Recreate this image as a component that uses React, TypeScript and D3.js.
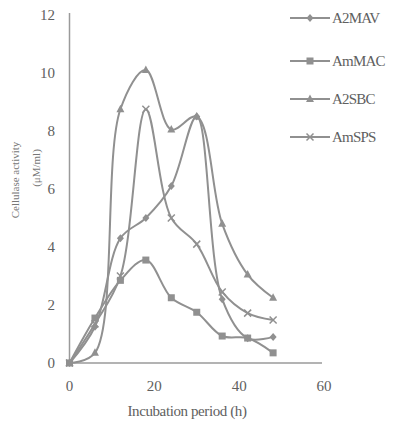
import { useEffect, useRef } from "react";
import * as d3 from "d3";

const hours = [0, 6, 12, 18, 24, 30, 36, 42, 48];
const a2mav = [0, 1.25, 4.3, 5.0, 6.1, 8.5, 2.2, 0.85, 0.9];
const ammac = [0, 1.55, 2.85, 3.55, 2.25, 1.75, 0.93, 0.86, 0.35];
const a2sbc = [0, 0.35, 8.75, 10.1, 8.05, 8.5, 4.8, 3.05, 2.25];
const amsps = [0, 1.35, 3.0, 8.75, 5.0, 4.1, 2.45, 1.72, 1.48];

const seriesNames = ["A2MAV", "AmMAC", "A2SBC", "AmSPS"];
const seriesValues = [a2mav, ammac, a2sbc, amsps];
const markerTypes = ["diamond", "square", "triangle", "cross"] as const;

const xTicks = [0, 20, 40, 60];
const yTicks = [0, 2, 4, 6, 8, 10, 12];

const W = 396;
const H = 441;
const ink = "#909090";
const textInk = "#606060";
const font = "'Liberation Serif', 'DejaVu Serif', serif";

function drawMarker(g: d3.Selection<SVGGElement, unknown, null, undefined>, type: string, cx: number, cy: number) {
  if (type === "diamond") {
    g.append("path").attr("d", `M${cx},${cy - 4}L${cx + 3.5},${cy}L${cx},${cy + 4}L${cx - 3.5},${cy}Z`).attr("fill", ink);
  } else if (type === "square") {
    g.append("rect").attr("x", cx - 3.5).attr("y", cy - 3.5).attr("width", 7).attr("height", 7).attr("fill", ink);
  } else if (type === "triangle") {
    g.append("path").attr("d", `M${cx},${cy - 4.5}L${cx + 4},${cy + 3}L${cx - 4},${cy + 3}Z`).attr("fill", ink);
  } else {
    g.append("path")
      .attr("d", `M${cx - 3.5},${cy - 3.5}L${cx + 3.5},${cy + 3.5}M${cx + 3.5},${cy - 3.5}L${cx - 3.5},${cy + 3.5}`)
      .attr("stroke", ink)
      .attr("stroke-width", 1.5);
  }
}

export default function App() {
  const svgRef = useRef<SVGSVGElement | null>(null);

  useEffect(() => {
    const svgEl = svgRef.current;
    if (!svgEl) return;
    const svg = d3.select(svgEl);
    svg.selectAll("*").remove();

    const x = d3.scaleLinear().domain([0, 60]).range([69.5, 324]);
    const y = d3.scaleLinear().domain([0, 12]).range([363, 15]);

    // axes
    svg.append("line").attr("x1", x(0)).attr("x2", x(0)).attr("y1", y(12) - 2).attr("y2", y(0)).attr("stroke", "#9a9a9a").attr("stroke-width", 1.5);
    svg.append("line").attr("x1", x(0)).attr("x2", 322).attr("y1", y(0)).attr("y2", y(0)).attr("stroke", "#9a9a9a").attr("stroke-width", 1.5);

    svg
      .append("g")
      .selectAll("text")
      .data(yTicks)
      .join("text")
      .attr("x", 55)
      .attr("y", (d) => y(d) + 5)
      .attr("text-anchor", "end")
      .attr("font-size", 15)
      .attr("font-family", font)
      .attr("fill", textInk)
      .text((d) => d);

    svg
      .append("g")
      .selectAll("text")
      .data(xTicks)
      .join("text")
      .attr("x", (d) => x(d))
      .attr("y", 391)
      .attr("text-anchor", "middle")
      .attr("font-size", 15)
      .attr("font-family", font)
      .attr("fill", textInk)
      .text((d) => d);

    svg
      .append("text")
      .attr("x", 187)
      .attr("y", 416)
      .attr("text-anchor", "middle")
      .attr("font-size", 15)
      .attr("letter-spacing", -0.4)
      .attr("font-family", font)
      .attr("fill", textInk)
      .text("Incubation period (h)");

    // y title (two rotated lines)
    const yTitle = svg.append("g").attr("font-family", font).attr("fill", "#777").attr("font-size", 11);
    yTitle.append("text").attr("transform", "translate(19,180) rotate(-90)").attr("text-anchor", "middle").text("Cellulase activity");
    yTitle.append("text").attr("transform", "translate(40,168) rotate(-90)").attr("text-anchor", "middle").text("(μM/ml)");

    // series
    const line = d3
      .line<number>()
      .x((_, i) => x(hours[i]))
      .y((d) => y(d))
      .curve(d3.curveCatmullRom.alpha(0.5));

    seriesValues.forEach((values, si) => {
      const g = svg.append("g");
      g.append("path").attr("d", line(values)).attr("fill", "none").attr("stroke", ink).attr("stroke-width", 2);
      values.forEach((v, i) => drawMarker(g, markerTypes[si], x(hours[i]), y(v)));
    });

    // legend
    const legendY = [18, 61, 99, 137];
    seriesNames.forEach((name, i) => {
      const g = svg.append("g");
      g.append("line").attr("x1", 290).attr("x2", 330).attr("y1", legendY[i]).attr("y2", legendY[i]).attr("stroke", ink).attr("stroke-width", 2);
      drawMarker(g, markerTypes[i], 310, legendY[i]);
      g.append("text")
        .attr("x", 332)
        .attr("y", legendY[i] + 5)
        .attr("font-size", 15)
        .attr("letter-spacing", -0.8)
        .attr("font-family", font)
        .attr("fill", textInk)
        .text(name);
    });
  }, []);

  return <svg ref={svgRef} width={W} height={H} style={{ position: "absolute", left: 0, top: 0, background: "#fff" }} />;
}
